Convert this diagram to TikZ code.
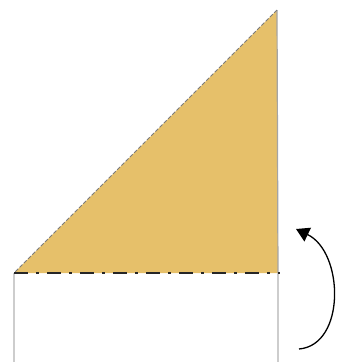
\documentclass[tikz,border=0pt]{standalone}
\usetikzlibrary{arrows.meta}
\definecolor{paper}{RGB}{230,192,106}
\definecolor{edge}{RGB}{205,205,205}
\tikzset{
  flapfill/.style={fill=paper, draw=none},
  paperedge/.style={draw=edge, line width=1.4pt},
  foldline/.style={draw=black!85, line width=1.6pt, dash pattern=on 14pt off 8pt on 3pt off 8pt},
  turnarrow/.style={draw=black, line width=1.3pt, -{Triangle[length=13pt,width=15pt]}}
}
\begin{document}
\begin{tikzpicture}[x=1pt,y=-1pt]
\useasboundingbox (0,0) rectangle (339,362);
% triangle flap
\coordinate (A) at (277,10);
\coordinate (B) at (14,273);
\coordinate (C) at (278,273);
\fill[flapfill] (A) -- (B) -- (C) -- cycle;
\draw[draw=edge!80!black, line width=1.2pt] (A) -- (C);
\draw[draw=edge!60!black, line width=1pt, dash pattern=on 4pt off 2pt] (A) -- (B);
% lower rectangle sides
\coordinate (BL) at (14,364);
\coordinate (BR) at (278,364);
\draw[paperedge] (B) -- (BL);
\draw[paperedge] (C) -- (BR);
% fold line
\coordinate (F1) at (14,273);
\coordinate (F2) at (280,273);
\draw[foldline] (F1) -- (F2);
% turn arrow
\coordinate (S) at (299,349);
\coordinate (T) at (296,229);
\draw[turnarrow] (S) .. controls (346,345) and (344,252) .. (T);
\end{tikzpicture}
\end{document}
